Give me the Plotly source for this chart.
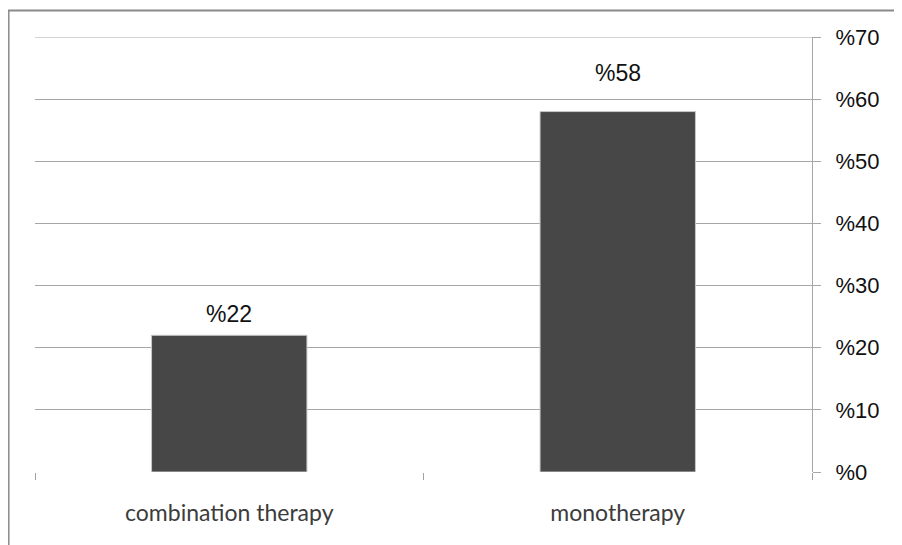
import plotly.graph_objects as go

categories = ["combination therapy", "monotherapy"]
values = [22, 58]
value_labels = ["%22", "%58"]
tick_vals = [0, 10, 20, 30, 40, 50, 60, 70]
tick_text = ["%0", "%10", "%20", "%30", "%40", "%50", "%60", "%70"]

# page has an 8px body margin, so the figure is drawn 8px right/down
W, H = 894, 537
L, R, T, B = 27, 90, 29, 73
pw = W - L - R
ph = H - T - B

fig = go.Figure()
fig.add_trace(go.Bar(
    x=categories, y=values, width=0.4,
    marker=dict(color="#474747", line=dict(color="#c8c8c8", width=1)),
    hoverinfo="x+y",
))

label_shift = [21, 39]
for c, v, t, s in zip(categories, values, value_labels, label_shift):
    fig.add_annotation(x=c, y=v, text=t, showarrow=False,
                       yanchor="middle", yshift=s,
                       font=dict(family="Liberation Sans, Arial", size=23, color="#111111"))

# top gridline (hidden by plotly at the plot edge)
fig.add_shape(type="line", xref="paper", yref="y", x0=0, x1=1,
              y0=tick_vals[-1], y1=tick_vals[-1],
              line=dict(color="#a6a6a6", width=1))

fig.update_layout(
    width=W, height=H,
    margin=dict(l=L, r=R, t=T, b=B),
    paper_bgcolor="white", plot_bgcolor="white",
    showlegend=False,
    xaxis=dict(
        showline=False, showgrid=False, zeroline=False,
        ticks="outside", ticklen=7, tickcolor="#a0a0a0", tickwidth=1,
        tickson="boundaries",
        tickfont=dict(family="Lato, Noto Sans", size=23, color="#3c3c3c"),
        ticklabelstandoff=25,
    ),
    yaxis=dict(
        side="right", range=[0, 70],
        tickvals=tick_vals, ticktext=tick_text,
        showgrid=True, gridcolor="#a6a6a6", gridwidth=1,
        zeroline=False,
        showline=True, linecolor="#a6a6a6", linewidth=1,
        ticks="outside", ticklen=8, tickcolor="#a6a6a6",
        tickfont=dict(family="Liberation Sans, Arial", size=22, color="#111111"),
        ticklabelstandoff=10,
    ),
)

def px2x(px):
    return (px - L) / pw

def py2y(py):
    return 1 - (py - T) / ph

# outer frame: top and left borders
fig.add_shape(type="line", xref="paper", yref="paper",
              x0=px2x(0), x1=px2x(W + 5), y0=py2y(2.5), y1=py2y(2.5),
              line=dict(color="#8a8a8a", width=2))
fig.add_shape(type="line", xref="paper", yref="paper",
              x0=px2x(0.8), x1=px2x(0.8), y0=py2y(2), y1=py2y(H + 5),
              line=dict(color="#8a8a8a", width=1.5))

fig.write_html("out.html")
